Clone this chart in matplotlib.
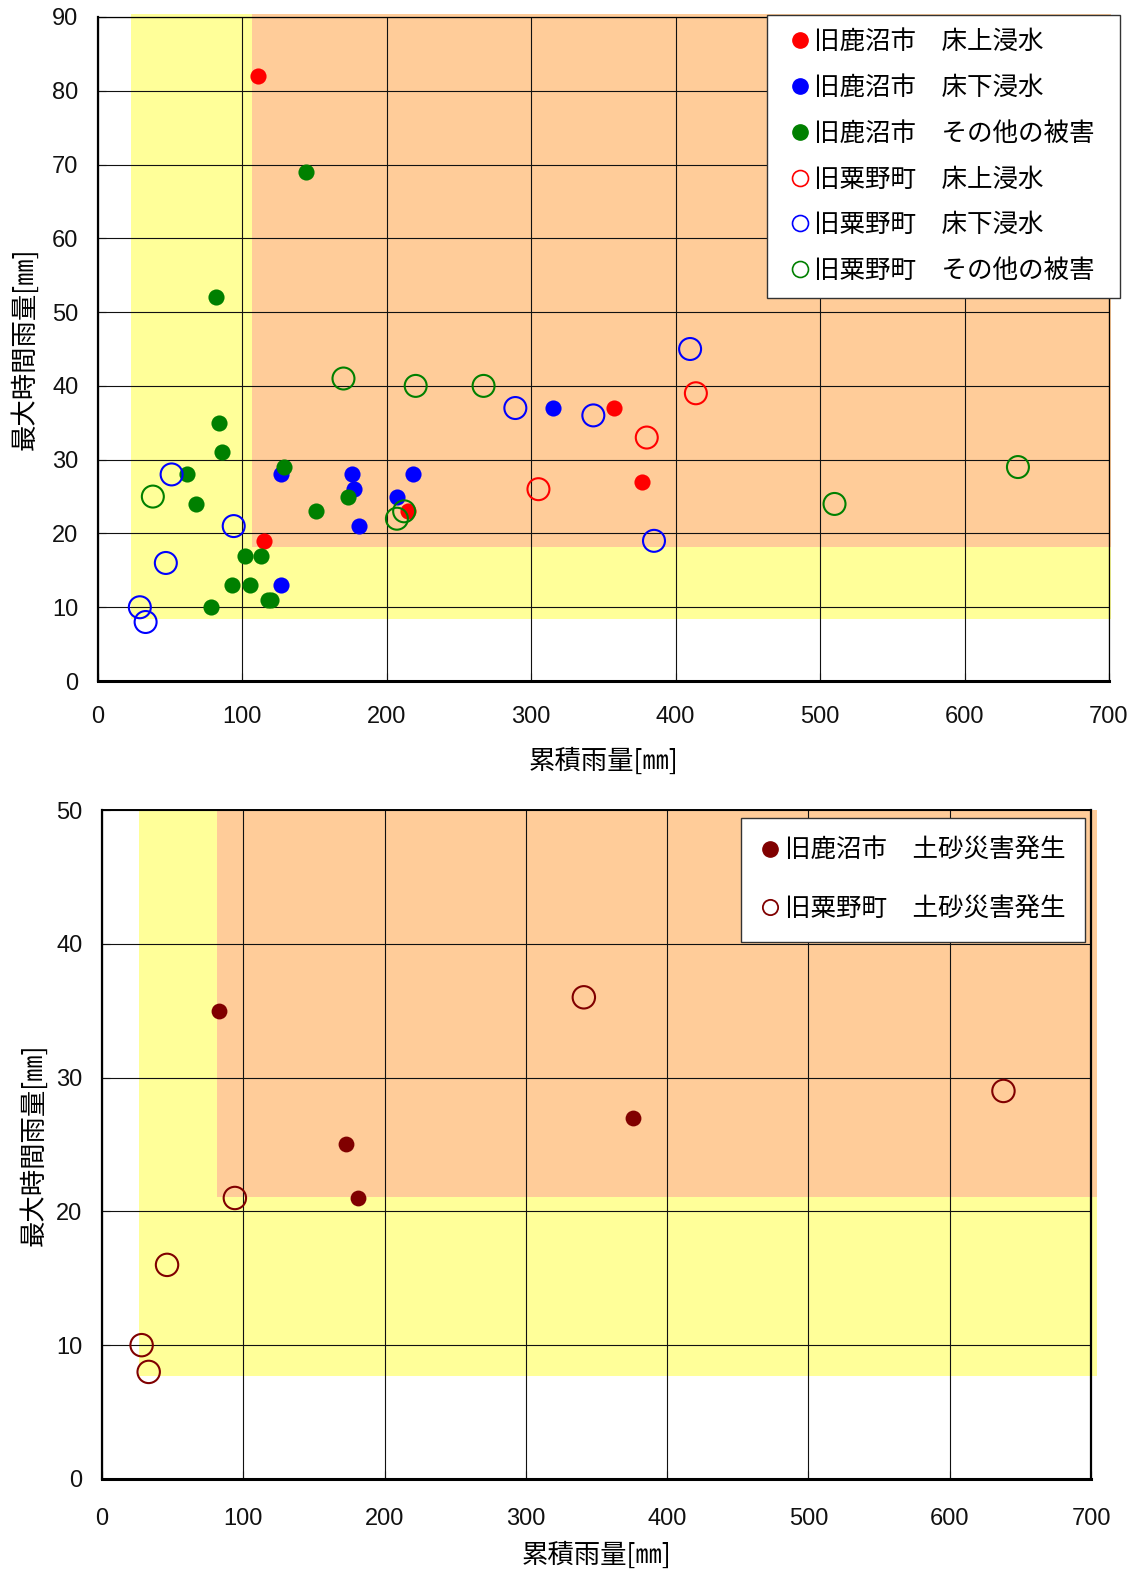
import matplotlib
matplotlib.use("Agg")
import matplotlib.pyplot as plt
from matplotlib.patches import Rectangle
from matplotlib.lines import Line2D

plt.rcParams['font.family'] = ['Liberation Sans', 'Noto Sans CJK JP', 'DejaVu Sans']
JP = ['Noto Sans CJK JP', 'DejaVu Sans']

# --- top chart data: (cumulative rainfall, max hourly rainfall) ---
kanuma_above_x = [111, 115, 215, 357, 377]
kanuma_above_y = [82, 19, 23, 37, 27]
kanuma_below_x = [127, 127, 176, 177, 181, 207, 218, 315]
kanuma_below_y = [28, 13, 28, 26, 21, 25, 28, 37]
kanuma_other_x = [82, 144, 84, 86, 62, 68, 102, 113, 93, 105, 118, 120, 78, 129, 151, 173]
kanuma_other_y = [52, 69, 35, 31, 28, 24, 17, 17, 13, 13, 11, 11, 10, 29, 23, 25]
awano_above_x = [305, 380, 414]
awano_above_y = [26, 33, 39]
awano_below_x = [29, 33, 47, 51, 94, 289, 343, 385, 410]
awano_below_y = [10, 8, 16, 28, 21, 37, 36, 19, 45]
awano_other_x = [38, 170, 220, 267, 207, 212, 510, 637]
awano_other_y = [25, 41, 40, 40, 22, 23, 24, 29]

# --- bottom chart data: landslides ---
slide_kanuma_x = [83, 173, 181, 376]
slide_kanuma_y = [35, 25, 21, 27]
slide_awano_x = [28, 33, 46, 94, 341, 638]
slide_awano_y = [10, 8, 16, 21, 36, 29]

# shaded zones (x from, y from) -> to the top right of the chart
top_yellow = (23, 8.4)
top_orange = (106.5, 18.1)
top_xmax, top_ymax = 701.5, 90.4
bot_yellow = (26.2, 7.7)
bot_orange = (81.4, 21.1)
bot_xmax, bot_ymax = 704, 50

top_labels = ['旧鹿沼市\u3000床上浸水', '旧鹿沼市\u3000床下浸水', '旧鹿沼市\u3000その他の被害  ',
              '旧粟野町\u3000床上浸水', '旧粟野町\u3000床下浸水', '旧粟野町\u3000その他の被害  ']
bot_labels = ['旧鹿沼市\u3000土砂災害発生', '旧粟野町\u3000土砂災害発生']

YELLOW = '#FFFF99'
ORANGE = '#FFCC99'


def style_axes(ax, ymax, ystep, xpad, xlabelpad, ylabelpad):
    ax.set_xlim(0, 700)
    ax.set_ylim(0, ymax)
    ax.set_xticks(range(0, 701, 100))
    ax.set_yticks(range(0, ymax + 1, ystep))
    ax.set_axisbelow(True)
    ax.grid(True, color='#111111', linewidth=0.8)
    ax.tick_params(direction='in', length=6, width=0.8, labelsize=17, pad=14,
                   colors='#111111')
    ax.tick_params(axis='x', pad=xpad)
    ax.spines['left'].set_linewidth(1.6)
    ax.spines['bottom'].set_linewidth(2.2)
    ax.spines['top'].set_linewidth(0.9)
    ax.spines['right'].set_linewidth(0.9)
    ax.set_xlabel('累積雨量[㎜]', fontsize=19, family=JP, labelpad=xlabelpad)
    ax.set_ylabel('最大時間雨量[㎜]', fontsize=19, family=JP, labelpad=ylabelpad)


def add_zones(ax, yellow, orange, xmax, ymax):
    ax.add_patch(Rectangle(yellow, xmax - yellow[0], ymax - yellow[1],
                           facecolor=YELLOW, edgecolor='none', zorder=0.2, clip_on=False))
    ax.add_patch(Rectangle(orange, xmax - orange[0], ymax - orange[1],
                           facecolor=ORANGE, edgecolor='none', zorder=0.3, clip_on=False))


fig = plt.figure(figsize=(11.39, 15.71), dpi=100)

# ---------------- top chart ----------------
ax1 = fig.add_axes([0.0860, 0.5665, 0.8876, 0.4227])
add_zones(ax1, top_yellow, top_orange, top_xmax, top_ymax)
style_axes(ax1, 90, 10, xpad=18, xlabelpad=14, ylabelpad=10)

filled = dict(s=135, linewidths=0, zorder=3)
hollow = dict(s=250, facecolors='none', linewidths=1.5, zorder=4)
ax1.scatter(kanuma_above_x, kanuma_above_y, color='#FF0000', **filled)
ax1.scatter(kanuma_below_x, kanuma_below_y, color='#0000FF', **filled)
ax1.scatter(kanuma_other_x, kanuma_other_y, color='#008000', **filled)
ax1.scatter(awano_above_x, awano_above_y, edgecolors='#FF0000', **hollow)
ax1.scatter(awano_below_x, awano_below_y, edgecolors='#0000FF', **hollow)
ax1.scatter(awano_other_x, awano_other_y, edgecolors='#008000', **hollow)

colors = ['#FF0000', '#0000FF', '#008000']
handles = [Line2D([], [], linestyle='none', marker='o', markersize=11,
                  markerfacecolor=c, markeredgecolor=c) for c in colors]
handles += [Line2D([], [], linestyle='none', marker='o', markersize=11.5,
                   markerfacecolor='white', markeredgecolor=c, markeredgewidth=1.2) for c in colors]
leg1 = ax1.legend(handles, top_labels, loc='upper right', bbox_to_anchor=(1.011, 1.003),
                  borderaxespad=0, prop={'family': JP, 'size': 18.4}, fancybox=False,
                  framealpha=1, edgecolor='#333333', labelspacing=0.775,
                  handlelength=1.49, handletextpad=-0.2, borderpad=0.55)
leg1.get_frame().set_linewidth(1.0)
leg1.set_zorder(10)

# ---------------- bottom chart ----------------
ax2 = fig.add_axes([0.0896, 0.0586, 0.8683, 0.4258])
add_zones(ax2, bot_yellow, bot_orange, bot_xmax, bot_ymax)
style_axes(ax2, 50, 10, xpad=21, xlabelpad=8, ylabelpad=6)
ax2.spines['right'].set_linewidth(1.6)
ax2.spines['top'].set_linewidth(1.4)

ax2.scatter(slide_kanuma_x, slide_kanuma_y, color='#800000', s=130, linewidths=0, zorder=3)
ax2.scatter(slide_awano_x, slide_awano_y, facecolors='none', edgecolors='#800000',
            s=260, linewidths=1.5, zorder=4)

handles2 = [Line2D([], [], linestyle='none', marker='o', markersize=11,
                   markerfacecolor='#800000', markeredgecolor='#800000'),
            Line2D([], [], linestyle='none', marker='o', markersize=11,
                   markerfacecolor='white', markeredgecolor='#800000', markeredgewidth=1.3)]
leg2 = ax2.legend(handles2, bot_labels, loc='upper right', bbox_to_anchor=(0.994, 0.988),
                  borderaxespad=0, prop={'family': JP, 'size': 18.4}, fancybox=False,
                  framealpha=1, edgecolor='#333333', labelspacing=1.27,
                  handlelength=0.7, handletextpad=0.23, borderpad=0.78)
leg2.get_frame().set_linewidth(1.0)
leg2.set_zorder(10)

fig.savefig('out.png', dpi=100)
